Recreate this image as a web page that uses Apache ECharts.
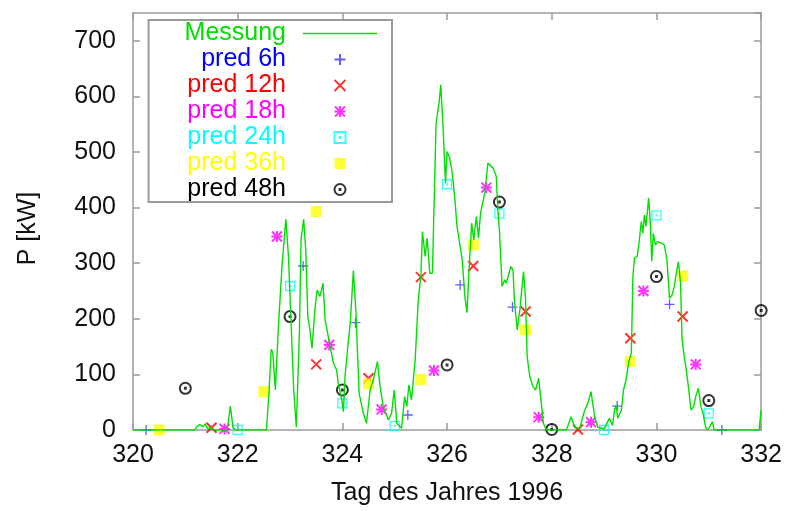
<!DOCTYPE html>
<html>
<head>
<meta charset="utf-8">
<script src="https://cdn.jsdelivr.net/npm/echarts@6/dist/echarts.min.js"></script>
<style>
  html, body { margin: 0; padding: 0; background: #fff; }
  #chart { width: 785px; height: 511px; }
</style>
</head>
<body>
<div id="chart"></div>
<script>
// Messung (Stundenwerte)
var messTag = [320.00, 321.18, 321.22, 321.28, 321.33, 321.38, 321.42, 321.48, 321.55, 321.80, 321.86, 321.91, 321.95,
    322.55, 322.60, 322.64, 322.67, 322.72, 322.78, 322.85, 322.92, 322.97, 323.02, 323.07, 323.12, 323.18, 323.21,
    323.26, 323.30, 323.34, 323.38, 323.42, 323.48, 323.52, 323.57, 323.63, 323.67, 323.73, 323.83, 323.89, 323.92,
    323.99, 324.02, 324.05, 324.11, 324.15, 324.21, 324.26, 324.32, 324.40, 324.46, 324.53, 324.59, 324.67, 324.72,
    324.78, 324.88, 324.94, 324.99, 325.04, 325.13, 325.19, 325.23, 325.27, 325.32, 325.39, 325.45, 325.50, 325.53,
    325.58, 325.62, 325.67, 325.72, 325.79, 325.85, 325.88, 325.92, 325.97, 326.00, 326.05, 326.10, 326.15, 326.19,
    326.24, 326.29, 326.34, 326.38, 326.42, 326.47, 326.51, 326.56, 326.60, 326.64, 326.72, 326.78, 326.88, 326.94,
    326.97, 327.00, 327.05, 327.10, 327.13, 327.22, 327.26, 327.29, 327.34, 327.39, 327.46, 327.50, 327.53, 327.58,
    327.64, 327.69, 327.75, 327.80, 327.84, 327.90, 328.28, 328.31, 328.37, 328.44, 328.53, 328.63, 328.69, 328.75,
    328.82, 328.88, 329.00, 329.10, 329.16, 329.20, 329.23, 329.26, 329.33, 329.37, 329.42, 329.47, 329.52, 329.55,
    329.58, 329.63, 329.66, 329.71, 329.74, 329.77, 329.80, 329.85, 329.88, 329.91, 329.94, 329.98, 330.02, 330.09,
    330.15, 330.20, 330.25, 330.30, 330.34, 330.39, 330.42, 330.46, 330.49, 330.53, 330.57, 330.61, 330.66, 330.71,
    330.75, 330.80, 330.85, 330.89, 330.94, 330.98, 331.03, 331.07, 331.10, 331.96, 332.00];
var messP = [0, 0, 6, 10, 6, 11, 3, 4, 0, 0, 43, 5, 0,
    0, 70, 145, 140, 72, 190, 300, 379, 312, 192, 72, 5, 180, 342,
    379, 324, 204, 180, 147, 222, 252, 240, 264, 198, 168, 120, 108, 84,
    54, 33, 96, 156, 192, 287, 210, 66, 30, 12, 72, 90, 123, 78,
    42, 18, 30, 72, 12, 3, 60, 42, 81, 54, 126, 234, 278, 357,
    312, 345, 282, 282, 552, 591, 621, 552, 444, 501, 489, 462, 414, 366,
    336, 306, 240, 211, 288, 372, 342, 384, 345, 390, 426, 480, 471, 456,
    396, 360, 258, 270, 264, 294, 288, 228, 180, 216, 285, 234, 132, 96,
    78, 72, 93, 48, 12, 0, 0, 2, 24, 5, 2, 36, 48, 69,
    24, 5, 2, 21, 8, 36, 45, 21, 36, 72, 90, 123, 138, 276,
    309, 312, 330, 375, 354, 387, 366, 417, 378, 303, 354, 333, 339, 336,
    333, 306, 237, 243, 258, 288, 303, 264, 162, 132, 108, 78, 36, 42,
    60, 75, 42, 30, 5, 0, 8, 15, 0, 0, 36];

// Vorhersagen
var tag6 = [320.25, 323.25, 324.25, 325.25, 326.25, 327.25, 329.25, 330.25, 331.25];
var p6 = [0, 295, 193, 27, 261, 221, 43, 226, 0];
var tag12 = [321.5, 323.5, 324.5, 325.5, 326.5, 327.5, 328.5, 329.5, 330.5];
var p12 = [4, 118, 93, 275, 295, 213, 1, 165, 204];
var tag18 = [321.75, 322.75, 323.75, 324.75, 325.75, 326.75, 327.75, 328.75, 329.75, 330.75];
var p18 = [2, 348, 153, 37, 107, 436, 23, 14, 250, 118];
var tag24 = [322, 323, 324, 325, 326, 327, 329, 330, 331];
var p24 = [0, 259, 48, 7, 442, 389, 0, 386, 30];
var tag36 = [320.5, 322.5, 323.5, 324.5, 325.5, 326.5, 327.5, 329.5, 330.5];
var p36 = [0, 69, 393, 83, 91, 333, 180, 123, 277];
var tag48 = [321, 323, 324, 326, 327, 328, 330, 331, 332];
var p48 = [75, 204, 72, 117, 410, 1, 276, 53, 215];

var xTicks = [320, 322, 324, 326, 328, 330, 332];
var yTicks = [0, 100, 200, 300, 400, 500, 600, 700];

function paare(xs, ys) {
    var out = [];
    for (var i = 0; i < xs.length; i++) out.push([xs[i], ys[i]]);
    return out;
}

var schrift = 'Liberation Sans, Arial, Helvetica, sans-serif';
var grau = '#9a9a9a';
var gruen = '#00e000';

var dom = document.getElementById('chart');
var myChart = echarts.init(dom, null, {renderer: 'canvas'});

function punkte(name, xs, ys, symbol, size, farbe, gefuellt, strich) {
    return {
        name: name,
        type: 'scatter',
        data: paare(xs, ys),
        symbol: symbol,
        symbolSize: size,
        itemStyle: gefuellt ? {color: farbe} : {
            color: 'rgba(0,0,0,0)',
            borderColor: farbe,
            borderWidth: strich
        },
        emphasis: {disabled: true}
    };
}

var achseX = function (pos, labels) {
    return {
        type: 'value',
        position: pos,
        min: 320, max: 332, interval: 2,
        axisLine: {show: true, onZero: false, lineStyle: {color: grau, width: 1.5}},
        axisTick: {show: true, inside: true, length: 7, lineStyle: {color: grau, width: 1.5}},
        axisLabel: {show: labels, margin: 13, fontSize: 25, color: '#111', fontFamily: schrift},
        splitLine: {show: false}
    };
};
var achseY = function (pos, labels) {
    return {
        type: 'value',
        position: pos,
        min: 0, max: 750, interval: 100,
        axisLine: {show: true, onZero: false, lineStyle: {color: grau, width: 1.5}},
        axisTick: {show: true, inside: true, length: 7, lineStyle: {color: grau, width: 1.5}},
        axisLabel: {show: labels, margin: 17, fontSize: 25, color: '#111', fontFamily: schrift, showMaxLabel: false},
        splitLine: {show: false}
    };
};

var xa = achseX('bottom', true);
xa.name = 'Tag des Jahres 1996';
xa.nameLocation = 'middle';
xa.nameGap = 51;
xa.nameTextStyle = {fontSize: 25, color: '#111', fontFamily: schrift};
var ya = achseY('left', true);
ya.name = 'P [kW]';
ya.nameLocation = 'middle';
ya.nameGap = 92;
ya.nameTextStyle = {fontSize: 25, color: '#111', fontFamily: schrift, padding: [0, 14, 0, 0]};

option = {
    animation: false,
    backgroundColor: '#fff',
    grid: {left: 133, right: 23, top: 13, bottom: 81, containLabel: false},
    xAxis: [xa, achseX('top', false)],
    yAxis: [ya, achseY('right', false)],
    legend: {
        orient: 'vertical',
        align: 'right',
        right: 393,
        top: 20,
        itemWidth: 74,
        itemHeight: 11,
        itemGap: 1,
        padding: [1, 15, 0, 36],
        backgroundColor: '#fff',
        borderColor: grau,
        borderWidth: 2,
        borderRadius: 0,
        selectedMode: false,
        textStyle: {fontSize: 25, fontFamily: schrift, padding: [0, 12, 0, 0]},
        data: [
            {name: 'Messung', icon: 'path://M0,0L74,0L74,1.4L0,1.4Z', textStyle: {color: gruen}},
            {name: 'pred 6h', textStyle: {color: '#0000ff'}},
            {name: 'pred 12h', textStyle: {color: '#ff0000'}},
            {name: 'pred 18h', textStyle: {color: '#ff00ff'}},
            {name: 'pred 24h', textStyle: {color: '#00ffff'}},
            {name: 'pred 36h', textStyle: {color: '#ffff00'}},
            {name: 'pred 48h', textStyle: {color: '#000000'}}
        ]
    },
    series: [
        {
            name: 'Messung',
            type: 'line',
            data: paare(messTag, messP),
            symbol: 'none',
            showSymbol: false,
            lineStyle: {color: gruen, width: 1.4},
            itemStyle: {color: gruen},
            emphasis: {disabled: true}
        },
        punkte('pred 6h', tag6, p6, 'path://M0,5L10,5M5,0L5,10', 10, '#3a3aff', false, 1.3),
        punkte('pred 12h', tag12, p12, 'path://M0,0L10,10M10,0L0,10', 10, '#ff0000', false, 2),
        punkte('pred 18h', tag18, p18, 'path://M0,5L10,5M5,0L5,10M0.5,0.5L9.5,9.5M9.5,0.5L0.5,9.5', 11, '#ff00ff', false, 2),
        punkte('pred 24h', tag24, p24, 'path://M0,0L10,0L10,10L0,10Z M4.6,4.6L5.4,4.6L5.4,5.4L4.6,5.4Z', 9, '#00ffff', false, 1.3),
        punkte('pred 36h', tag36, p36, 'path://M0,0L10,0L10,10L0,10Z', 11, '#ffff00', true, 0),
        punkte('pred 48h', tag48, p48, 'path://M0,5A5,5,0,1,1,10,5A5,5,0,1,1,0,5Z M4.6,4.6L5.4,4.6L5.4,5.4L4.6,5.4Z', 11, '#000000', false, 2)
    ]
};
myChart.setOption(option, true);
window.onresize = myChart.resize;
</script>
</body>
</html>
